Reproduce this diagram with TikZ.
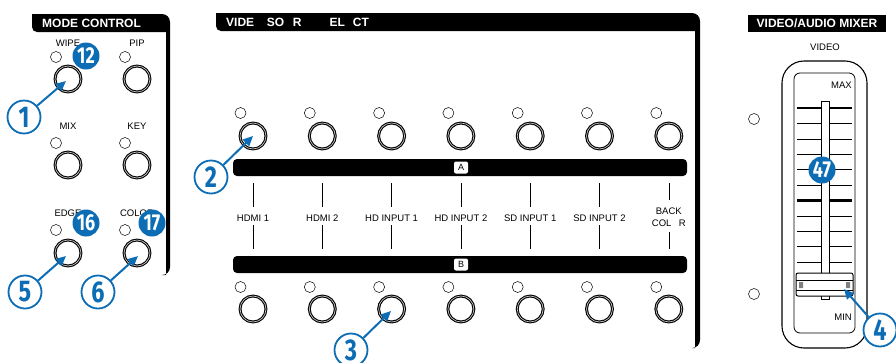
\documentclass[tikz,border=0pt]{standalone}
\usepackage{fontspec}
\setmainfont{Liberation Sans}
\newfontfamily\calloutfont[FakeStretch=0.78]{Fira Sans}
\usetikzlibrary{arrows.meta}

\definecolor{calloutblue}{HTML}{0C6DB5}

\tikzset{
  btn/.style={circle, draw, line width=1.1pt, double=gray!45, double distance=0.7pt, minimum size=26pt, inner sep=0pt},
  led/.style={circle, draw, line width=0.5pt, minimum size=11pt, inner sep=0pt},
  lbl/.style={inner sep=0pt, font=\fontsize{9.5}{12}\selectfont},
  hdr/.style={inner sep=0pt, text=white, font=\bfseries\fontsize{12}{14}\selectfont},
  tag/.style={fill=white, rounded corners=2pt, minimum width=14pt, minimum height=12pt, inner sep=0pt, font=\fontsize{9}{10}\selectfont},
  callout/.style={circle, draw=calloutblue, line width=1.8pt, fill=white, minimum size=33pt, inner sep=0pt, text=calloutblue, font=\calloutfont\bfseries\fontsize{30}{30}\selectfont},
  badge/.style={circle, fill=calloutblue, minimum size=27pt, inner sep=0pt, text=white, font=\calloutfont\bfseries\fontsize{23}{23}\selectfont},
  callarrow/.style={calloutblue, line width=2pt, -{Triangle[length=10pt,width=9pt]}}
}

\begin{document}
\begin{tikzpicture}[x=1pt, y=-1pt]
                \useasboundingbox (0,0) rectangle (896,362);

                % Mode control panel
                \fill (32,14) [rounded corners=8pt] -- (170,14) -- (170,275) [sharp corners] -- (166,275) -- (166,32) [rounded corners=5pt] -- (32,32) [sharp corners] -- cycle;
                \node[hdr, anchor=west] (modehdr) at (42,23) {MODE CONTROL};
                \foreach \name/\x/\ly/\dy/\by/\txt in {wipe/68/43/57/79/WIPE, pip/137/43/57/79/PIP, mix/68/126/143/165/MIX, key/137/126/143/165/KEY, edge/68/213/230/253/EDGE, color/137/213/230/253/COLOR}{
                  \node[lbl] (\name lbl) at (\x,\ly) {\txt};
                  \node[led] (\name led) at (\x-12,\dy) {};
                  \node[btn] (\name btn) at (\x,\by) {};
                }

                % Video source select panel
                \fill (216,13) [rounded corners=8pt] -- (700,13) -- (700,348) [sharp corners] -- (695,348) -- (695,31) [rounded corners=5pt] -- (216,31) [sharp corners] -- cycle;
                \node[hdr, anchor=west] (srchdr) at (226,22) {VIDE\phantom{O} SO\phantom{U}R\phantom{CE S}EL\phantom{E}CT};
                \fill[rounded corners=4pt] (233,159) rectangle (687,176);
                \node[tag] (tagA) at (461,167.5) {A};
                \fill[rounded corners=4pt] (233,256) rectangle (687,273);
                \node[tag] (tagB) at (461,264.5) {B};
                \foreach \i in {0,...,6}{
                  \pgfmathsetmacro\cx{253+69.3*\i}
                  \node[led] (ledA\i) at (\cx-12.5,113) {};
                  \node[btn] (btnA\i) at (\cx,136) {};
                  \node[led] (ledB\i) at (\cx-12.5,287) {};
                  \node[btn] (btnB\i) at (\cx,309) {};
                }
                \foreach \txt [count=\i from 0] in {HDMI 1, HDMI 2, HD INPUT 1, HD INPUT 2, SD INPUT 1, SD INPUT 2}{
                  \pgfmathsetmacro\cx{253+69.3*\i}
                  \node[lbl] (src\i) at (\cx,218) {\txt};
                  \draw[line width=0.6pt] (\cx,183) -- (\cx,207) (\cx,225) -- (\cx,249);
                }
                \node[lbl, align=center] (src6) at (668.8,217) {BACK\\COL\phantom{O}R};
                \draw[line width=0.6pt] (668.8,183) -- (668.8,200) (668.8,232) -- (668.8,249);

                % Video/audio mixer panel
                \fill (748,15) rectangle (886,32);
                \node[hdr] (mixhdr) at (817,23.5) {VIDEO/AUDIO MIXER};
                \node[lbl] (videolbl) at (825,47) {VIDEO};
                \node[led] (ledtop) at (754,119) {};
                \node[led] (ledbot) at (754,294) {};

                % Fader
                \draw[line width=1.1pt, rounded corners=22pt] (782,61) rectangle (867,348);
                \draw[line width=0.8pt, rounded corners=6pt] (794,73) rectangle (855,333);
                \draw[line width=0.6pt] (821,101) rectangle (829,299);
                \foreach \k in {0,...,10}{
                  \pgfmathsetmacro\ty{108+15.4*\k}
                  \pgfmathsetmacro\tw{(\k==0 || \k==6) ? 2.2 : 0.6}
                  \draw[line width=\tw pt] (797,\ty) -- (821,\ty) (829,\ty) -- (852,\ty);
                }
                \node[lbl, anchor=east] (maxlbl) at (852,85) {MAX};
                \node[lbl, anchor=east] (minlbl) at (852,317) {MIN};
                \draw[fill=white, line width=1pt, rounded corners=2pt] (796,273) rectangle (853,296);
                \draw[line width=1pt] (796,280) -- (853,280) (796,290) -- (853,290);
                \fill[gray] (799,282) rectangle (803,288) (846,282) rectangle (850,288);

                % Callouts
                \node[callout] (c1) at (24,117) {1};
                \node[callout] (c2) at (211,177) {2};
                \node[callout] (c3) at (351,350) {3};
                \node[callout] (c4) at (880,330) {4};
                \node[callout] (c5) at (25,292) {5};
                \node[callout] (c6) at (98,292) {6};
                \coordinate (t1) at (66,81);
                \coordinate (t2) at (253,136);
                \coordinate (t3) at (391,311);
                \coordinate (t4) at (844,289);
                \coordinate (t5) at (66,256);
                \coordinate (t6) at (138,256);
                \foreach \n in {1,...,6}
                  \draw[callarrow] (c\n) -- (t\n);

                % Badges
                \node[badge] (b12) at (86,56) {12};
                \node[badge] (b16) at (86,223) {16};
                \node[badge] (b17) at (152,223) {17};
                \node[badge] (b47) at (822,170) {47};
            \end{tikzpicture}
\end{document}
